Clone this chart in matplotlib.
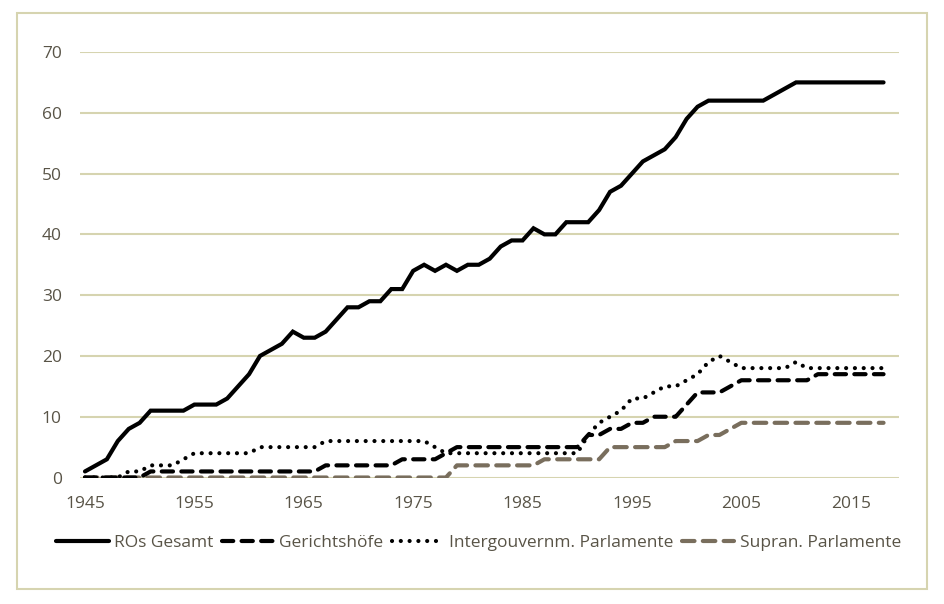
import matplotlib
matplotlib.use("Agg")
import matplotlib.pyplot as plt
from matplotlib.patches import Rectangle

years = list(range(1945, 2019))

ros_gesamt = [1, 2, 3, 6, 8, 9, 11, 11, 11, 11,
              12, 12, 12, 13, 15, 17, 20, 21, 22, 24,
              23, 23, 24, 26, 28, 28, 29, 29, 31, 31,
              34, 35, 34, 35, 34, 35, 35, 36, 38, 39,
              39, 41, 40, 40, 42, 42, 42, 44, 47, 48,
              50, 52, 53, 54, 56, 59, 61, 62, 62, 62,
              62, 62, 62, 63, 64, 65, 65, 65, 65, 65,
              65, 65, 65, 65]
gerichtshoefe = [0, 0, 0, 0, 0, 0, 1, 1, 1, 1,
                 1, 1, 1, 1, 1, 1, 1, 1, 1, 1,
                 1, 1, 2, 2, 2, 2, 2, 2, 2, 3,
                 3, 3, 3, 4, 5, 5, 5, 5, 5, 5,
                 5, 5, 5, 5, 5, 5, 7, 7, 8, 8,
                 9, 9, 10, 10, 10, 12, 14, 14, 14, 15,
                 16, 16, 16, 16, 16, 16, 16, 17, 17, 17,
                 17, 17, 17, 17]
intergouv = [0, 0, 0, 0, 1, 1, 2, 2, 2, 3,
             4, 4, 4, 4, 4, 4, 5, 5, 5, 5,
             5, 5, 6, 6, 6, 6, 6, 6, 6, 6,
             6, 6, 5, 4, 4, 4, 4, 4, 4, 4,
             4, 4, 4, 4, 4, 4, 7, 9, 10, 11,
             13, 13, 14, 15, 15, 16, 17, 19, 20, 19,
             18, 18, 18, 18, 18, 19, 18, 18, 18, 18,
             18, 18, 18, 18]
supran = [0, 0, 0, 0, 0, 0, 0, 0, 0, 0,
          0, 0, 0, 0, 0, 0, 0, 0, 0, 0,
          0, 0, 0, 0, 0, 0, 0, 0, 0, 0,
          0, 0, 0, 0, 2, 2, 2, 2, 2, 2,
          2, 2, 3, 3, 3, 3, 3, 3, 5, 5,
          5, 5, 5, 5, 6, 6, 6, 7, 7, 8,
          9, 9, 9, 9, 9, 9, 9, 9, 9, 9,
          9, 9, 9, 9]

labels = ["ROs Gesamt", "Gerichtshöfe", "Intergouvernm. Parlamente", "Supran. Parlamente"]
xticks = [1945, 1955, 1965, 1975, 1985, 1995, 2005, 2015]

TXT = "#595447"
GRID = "#d6d4b0"
GREY = "#796e5d"

plt.rcParams["font.family"] = ["Open Sans", "DejaVu Sans"]

fig = plt.figure(figsize=(9.44, 6.04), dpi=100)
ax = fig.add_axes([0.0847, 0.2094, 0.8676, 0.7045])

lw = 3.0
ax.plot(years, supran, color=GREY, lw=lw, dashes=(3.0, 2.0), dash_capstyle="round",
        label=labels[3], zorder=2)
ax.plot(years, intergouv, color="black", lw=lw, dashes=(0.01, 2.1), dash_capstyle="round",
        label=labels[2], zorder=3)
ax.plot(years, gerichtshoefe, color="black", lw=lw, dashes=(2.7, 2.0), dash_capstyle="round",
        label=labels[1], zorder=4)
ax.plot(years, ros_gesamt, color="black", lw=lw, solid_capstyle="round",
        solid_joinstyle="miter", label=labels[0], zorder=5)

ax.set_xlim(1944.54, 2019.41)
ax.set_ylim(0, 70)
ax.set_yticks(range(0, 71, 10))
ax.set_xticks(xticks)
ax.grid(axis="y", color=GRID, lw=1.5)
ax.set_axisbelow(True)
for s in ax.spines.values():
    s.set_visible(False)
ax.tick_params(length=0, labelsize=12.5, colors=TXT)
ax.tick_params(axis="y", pad=13)
ax.tick_params(axis="x", pad=13)

h, l = ax.get_legend_handles_labels()
order = [3, 2, 1, 0]
leg = fig.legend([h[i] for i in order], [l[i] for i in order], ncol=4,
                 loc="center", bbox_to_anchor=(0.507, 0.101), frameon=False,
                 fontsize=12.5, handlelength=3.0, handletextpad=0.3,
                 columnspacing=0.5, labelcolor=TXT)

fig.patches.append(Rectangle((0.018, 0.0248), 0.964, 0.9536, transform=fig.transFigure,
                             fill=False, edgecolor=GRID, lw=1.5))

fig.savefig("out.png", dpi=100)
